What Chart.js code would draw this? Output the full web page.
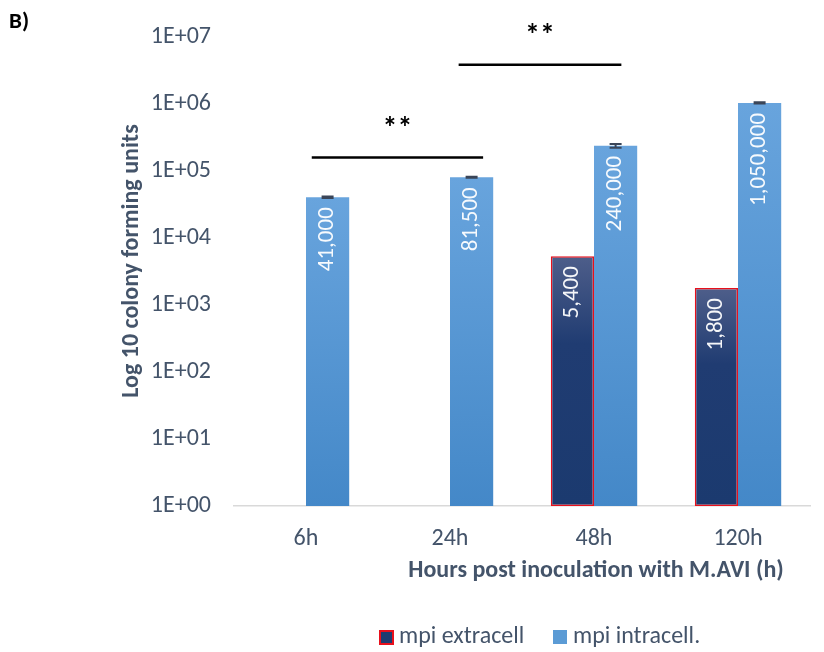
<!DOCTYPE html>
<html>
<head>
<meta charset="utf-8">
<script src="https://cdn.jsdelivr.net/npm/chart.js@4/dist/chart.umd.min.js"></script>
<style>
  html, body { margin: 0; padding: 0; background: #ffffff; }
  #wrap { position: relative; width: 824px; height: 652px; }
</style>
</head>
<body>
<div id="wrap"><canvas id="cfu" width="824" height="652"></canvas></div>
<script>
// Colony forming units per time point (log scale)
const categories = ['6h', '24h', '48h', '120h'];
const extracellLabel = 'mpi extracell';
const intracellLabel = 'mpi intracell.';
const extracell = [null, null, 5400, 1800];
const intracell = [41000, 81500, 240000, 1050000];
const intracellErr = [1000, 1500, 15000, 25000];
const yTickValues = [1, 10, 100, 1000, 10000, 100000, 1000000, 10000000];

// Significance brackets: category-index span, height (CFU), marker text
const bracketFrom = [0.04, 1.06];
const bracketTo = [1.23, 2.19];
const bracketValue = [160000, 3900000];
const bracketText = ['**', '**'];

const FONT = 'Carlito, Calibri, Lato, "Open Sans", sans-serif';
const TEXT = '#44546a';

function barGradient(ctx, stops, fallback) {
  const chart = ctx.chart;
  const area = chart.chartArea;
  if (!area || ctx.raw == null || !chart.scales.y) return fallback;
  const top = chart.scales.y.getPixelForValue(ctx.raw);
  if (!isFinite(top)) return fallback;
  const g = chart.ctx.createLinearGradient(0, top, 0, area.bottom);
  stops.forEach(([p, col]) => g.addColorStop(p, col));
  return g;
}

const overlay = {
  id: 'overlay',
  afterDatasetsDraw(chart) {
    const c = chart.ctx;
    const x = chart.scales.x, y = chart.scales.y;

    // error bars on the intracellular series
    const meta = chart.getDatasetMeta(1);
    c.save();
    c.strokeStyle = '#3a4558';
    c.lineWidth = 2;
    meta.data.forEach((bar, i) => {
      const v = intracell[i], e = intracellErr[i];
      const yt = y.getPixelForValue(v + e), yb = y.getPixelForValue(v - e);
      c.beginPath();
      c.moveTo(bar.x, yt); c.lineTo(bar.x, yb);
      c.moveTo(bar.x - 6, yt); c.lineTo(bar.x + 6, yt);
      c.moveTo(bar.x - 6, yb); c.lineTo(bar.x + 6, yb);
      c.stroke();
    });
    c.restore();

    // value labels, rotated inside the bars
    c.save();
    c.fillStyle = 'rgba(255,255,255,0.95)';
    c.font = '23px ' + FONT;
    c.textAlign = 'right';
    c.textBaseline = 'middle';
    chart.data.datasets.forEach((ds, di) => {
      chart.getDatasetMeta(di).data.forEach((bar, i) => {
        const v = ds.data[i];
        if (v == null) return;
        c.save();
        c.translate(bar.x, bar.y + 10);
        c.rotate(-Math.PI / 2);
        c.fillText(v.toLocaleString('en-US'), 0, 0);
        c.restore();
      });
    });
    c.restore();

    // significance brackets
    c.save();
    c.strokeStyle = '#000000';
    c.lineWidth = 2.5;
    c.fillStyle = '#000000';
    c.font = 'bold 30px ' + FONT;
    c.textAlign = 'center';
    c.textBaseline = 'middle';
    bracketValue.forEach((val, k) => {
      const x0 = x.getPixelForValue(bracketFrom[k]);
      const x1 = x.getPixelForValue(bracketTo[k]);
      const yy = y.getPixelForValue(val);
      c.beginPath();
      c.moveTo(x0, yy); c.lineTo(x1, yy);
      c.stroke();
      c.fillText(bracketText[k], (x0 + x1) / 2, yy - 28);
    });
    c.restore();
  },
  afterDraw(chart) {
    const c = chart.ctx;
    c.save();
    // panel letter
    c.fillStyle = '#000000';
    c.font = 'bold 23px ' + FONT;
    c.textAlign = 'left';
    c.textBaseline = 'middle';
    c.fillText('B)', 9, 22);

    // axis titles
    c.fillStyle = TEXT;
    c.font = 'bold 24px ' + FONT;
    c.textAlign = 'center';
    c.fillText('Hours post inoculation with M.AVI (h)', 596, 571);
    c.save();
    c.translate(132, 261);
    c.rotate(-Math.PI / 2);
    c.fillText('Log 10 colony forming units', 0, 0);
    c.restore();

    // legend
    c.font = '24px ' + FONT;
    c.textAlign = 'left';
    c.fillStyle = '#1f3c70';
    c.fillRect(380, 631, 13, 13);
    c.strokeStyle = '#e8101c';
    c.lineWidth = 2;
    c.strokeRect(380, 631, 13, 13);
    c.fillStyle = TEXT;
    c.fillText(extracellLabel, 399, 637);
    c.fillStyle = '#5b9bd5';
    c.fillRect(553, 630, 14, 14);
    c.fillStyle = TEXT;
    c.fillText(intracellLabel, 573, 637);
    c.restore();
  }
};

new Chart(document.getElementById('cfu'), {
  type: 'bar',
  data: {
    labels: categories,
    datasets: [
      {
        label: extracellLabel,
        data: extracell,
        backgroundColor: (ctx) => barGradient(ctx,
          [[0, '#4e5e8a'], [0.35, '#203c72'], [1, '#1b3a6f']], '#1f3c70'),
        borderColor: '#e8101c',
        borderWidth: 1.5,
        borderSkipped: false,
        categoryPercentage: 0.6,
        barPercentage: 1.0
      },
      {
        label: intracellLabel,
        data: intracell,
        backgroundColor: (ctx) => barGradient(ctx,
          [[0, '#68a4dd'], [1, '#4488c8']], '#5b9bd5'),
        borderWidth: 0,
        categoryPercentage: 0.6,
        barPercentage: 1.0
      }
    ]
  },
  options: {
    responsive: false,
    animation: false,
    layout: { padding: { left: 0, right: 14, top: 32, bottom: 0 } },
    plugins: {
      legend: { display: false },
      tooltip: { enabled: false }
    },
    scales: {
      x: {
        grid: { display: false, drawTicks: false },
        border: { display: true, color: '#d9d9d9', width: 1.5 },
        ticks: { color: TEXT, font: { family: FONT, size: 24 }, padding: 19 },
        afterFit(s) { s.height = 146; }
      },
      y: {
        type: 'logarithmic',
        min: 1,
        max: 10000000,
        grid: { display: false, drawTicks: false },
        border: { display: false },
        ticks: {
          color: TEXT,
          font: { family: FONT, size: 24 },
          padding: 23,
          callback: (v) => '1E+' + String(Math.round(Math.log10(v))).padStart(2, '0')
        },
        afterBuildTicks(s) { s.ticks = yTickValues.map(v => ({ value: v })); },
        afterFit(s) { s.width = 234; }
      }
    }
  },
  plugins: [overlay]
});
</script>
</body>
</html>
